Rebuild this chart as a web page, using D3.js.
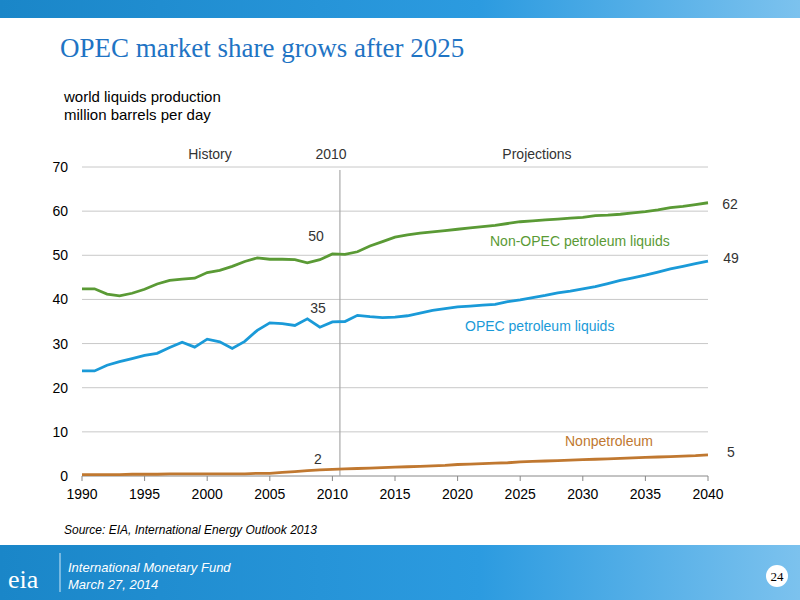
<!DOCTYPE html>
<html><head><meta charset="utf-8">
<script src="https://cdn.jsdelivr.net/npm/d3@7"></script>
<style>body{margin:0;background:#fff}svg{display:block}</style>
</head><body>
<svg id="chart" width="800" height="600"></svg>
<script>
let years = d3.range(1990, 2041);
let nonOpec = [42.4,42.4,41.2,40.8,41.4,42.3,43.5,44.3,44.6,44.8,46.1,46.6,47.5,48.6,49.4,49.1,49.1,49.0,48.3,49.0,50.3,50.2,50.8,52.1,53.1,54.1,54.6,55.0,55.3,55.6,55.9,56.2,56.5,56.8,57.2,57.6,57.8,58.0,58.2,58.4,58.6,59.0,59.1,59.3,59.6,59.9,60.3,60.8,61.1,61.5,61.9];
let opec = [23.8,23.8,25.1,25.9,26.6,27.3,27.8,29.1,30.3,29.2,31.0,30.4,28.9,30.5,33.0,34.7,34.5,34.1,35.6,33.7,34.9,35.0,36.4,36.1,35.9,36.0,36.3,36.9,37.5,37.9,38.3,38.5,38.7,38.9,39.5,39.9,40.4,40.9,41.5,41.9,42.4,42.9,43.6,44.3,44.9,45.5,46.2,46.9,47.5,48.1,48.7];
let nonPet = [0.3,0.3,0.3,0.3,0.4,0.4,0.4,0.5,0.5,0.5,0.5,0.5,0.5,0.5,0.6,0.6,0.8,1.0,1.2,1.4,1.5,1.6,1.7,1.8,1.9,2.0,2.1,2.2,2.3,2.4,2.6,2.7,2.8,2.9,3.0,3.2,3.3,3.4,3.5,3.6,3.7,3.8,3.9,4.0,4.1,4.2,4.3,4.4,4.5,4.6,4.8];
let yTicks = [0,10,20,30,40,50,60,70];
let xTicks = d3.range(1990, 2041, 5);

let svg = d3.select("#chart");
let defs = svg.append("defs");
let g1 = defs.append("linearGradient").attr("id","band");
g1.append("stop").attr("offset","0").attr("stop-color","#1a86c8");
g1.append("stop").attr("offset","0.6").attr("stop-color","#2c9be0");
g1.append("stop").attr("offset","1").attr("stop-color","#7cc2ee");

// banners
svg.append("rect").attr("x",0).attr("y",0).attr("width",800).attr("height",18).attr("fill","url(#band)");
svg.append("rect").attr("x",0).attr("y",545).attr("width",800).attr("height",55).attr("fill","url(#band)");

svg.append("text").attr("x",60).attr("y",57).attr("font-family","Liberation Serif, serif")
  .attr("font-size",27).attr("fill","#1f74c4").text("OPEC market share grows after 2025");
svg.append("text").attr("x",64).attr("y",102).attr("font-family","Liberation Sans, Arial")
  .attr("font-size",15).attr("fill","#000").text("world liquids production");
svg.append("text").attr("x",64).attr("y",120).attr("font-family","Liberation Sans, Arial")
  .attr("font-size",15).attr("fill","#000").text("million barrels per day");

let x = d3.scaleLinear().domain([1990, 2040]).range([82, 708]);
let y = d3.scaleLinear().domain([0, 70]).range([476, 167]);

let grid = svg.append("g");
yTicks.forEach(function (t) {
  grid.append("line").attr("x1",x(1990)).attr("x2",x(2040)).attr("y1",y(t)).attr("y2",y(t))
    .attr("stroke", t === 0 ? "#888" : "#c8c8c8").attr("stroke-width",1);
  grid.append("text").attr("x",68).attr("y",y(t)+5).attr("text-anchor","end")
    .attr("font-family","Liberation Sans, Arial").attr("font-size",14).text(t);
});
xTicks.forEach(function (t) {
  grid.append("line").attr("x1",x(t)).attr("x2",x(t)).attr("y1",476).attr("y2",481).attr("stroke","#888");
  grid.append("text").attr("x",x(t)).attr("y",499).attr("text-anchor","middle")
    .attr("font-family","Liberation Sans, Arial").attr("font-size",14).text(t);
});

// 2010 divider
svg.append("line").attr("x1",x(2010.6)).attr("x2",x(2010.6)).attr("y1",170).attr("y2",476)
  .attr("stroke","#aaa").attr("stroke-width",1.2);

let line = d3.line().x(function (d, i) { return x(years[i]); }).y(function (d) { return y(d); });
[[nonOpec,"#5a9a35"],[opec,"#1a9ad8"],[nonPet,"#c07830"]].forEach(function (s) {
  svg.append("path").datum(s[0]).attr("d", line).attr("fill","none")
    .attr("stroke", s[1]).attr("stroke-width", 2.8);
});

function label(tx, ty, txt, col, anchor) {
  svg.append("text").attr("x",tx).attr("y",ty).attr("fill",col).attr("text-anchor",anchor || "start")
    .attr("font-family","Liberation Sans, Arial").attr("font-size",14).text(txt);
}
label(210, 159, "History", "#333", "middle");
label(331, 159, "2010", "#333", "middle");
label(537, 159, "Projections", "#333", "middle");
label(316, 241, "50", "#333", "middle");
label(318, 313, "35", "#333", "middle");
label(318, 464, "2", "#333", "middle");
label(730, 209, "62", "#333", "middle");
label(731, 263, "49", "#333", "middle");
label(731, 457, "5", "#333", "middle");
label(490, 246, "Non-OPEC petroleum liquids", "#5a9a35");
label(465, 331, "OPEC petroleum liquids", "#1a9ad8");
label(565, 446, "Nonpetroleum", "#c07830");

svg.append("text").attr("x",64).attr("y",534).attr("font-family","Liberation Sans, Arial")
  .attr("font-size",12).attr("font-style","italic").text("Source: EIA, International Energy Outlook 2013");

// footer
svg.append("text").attr("x",8).attr("y",588).attr("font-family","Liberation Serif, serif")
  .attr("font-size",26).attr("fill","#fff").text("eia");
svg.append("line").attr("x1",60).attr("x2",60).attr("y1",553).attr("y2",592).attr("stroke","#cfe8f8");
svg.append("text").attr("x",68).attr("y",572).attr("font-family","Liberation Sans, Arial")
  .attr("font-size",13).attr("font-style","italic").attr("fill","#fff").text("International Monetary Fund");
svg.append("text").attr("x",68).attr("y",589).attr("font-family","Liberation Sans, Arial")
  .attr("font-size",13).attr("font-style","italic").attr("fill","#fff").text("March 27, 2014");
svg.append("circle").attr("cx",777).attr("cy",576).attr("r",11).attr("fill","#fff");
svg.append("text").attr("x",777).attr("y",581).attr("text-anchor","middle").attr("font-family","Liberation Serif, serif")
  .attr("font-size",13).text("24");
</script>
</body></html>
